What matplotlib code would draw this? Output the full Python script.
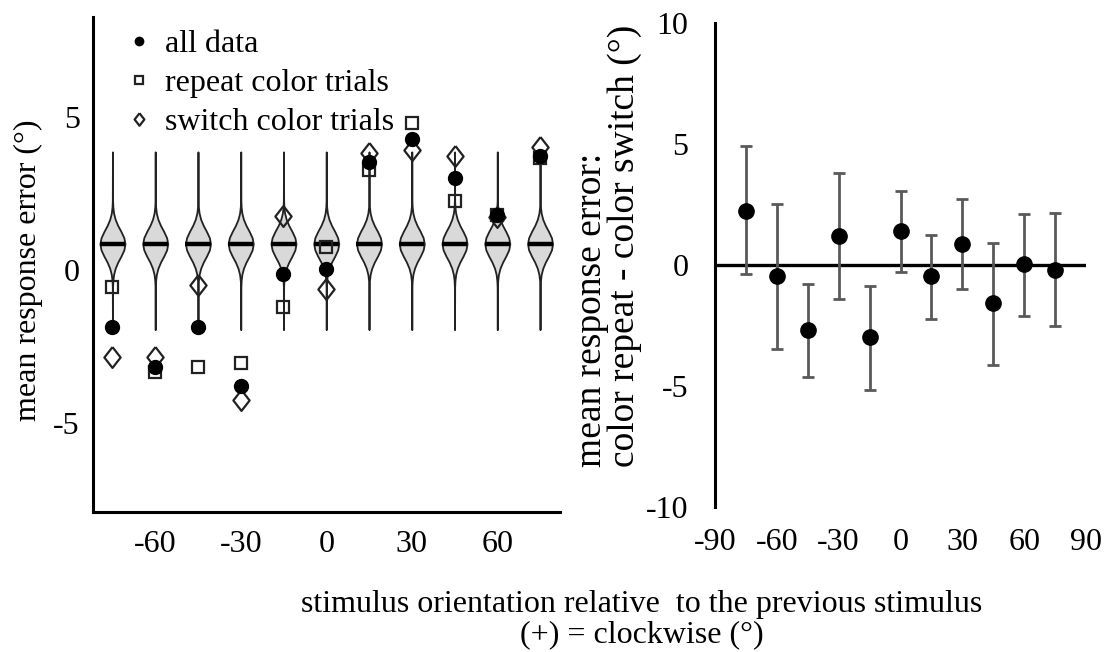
import matplotlib
matplotlib.use("Agg")
import matplotlib.pyplot as plt
import numpy as np

plt.rcParams['font.family'] = ['Liberation Serif', 'DejaVu Serif']
plt.rcParams['axes.unicode_minus'] = False

# ---- left panel data ----
orient = [-75, -60, -45, -30, -15, 0, 15, 30, 45, 60, 75]
all_data = [-1.86, -3.17, -1.86, -3.79, -0.13, 0.03, 3.53, 4.28, 3.00, 1.80, 3.73]
repeat_color = [-0.56, -3.33, -3.17, -3.04, -1.21, 0.75, 3.27, 4.80, 2.25, 1.80, 3.66]
switch_color = [-2.84, -2.84, -0.49, -4.25, 1.76, -0.62, 3.82, 3.92, 3.73, 1.73, 4.02]

# violin (null distribution) profile, same for every orientation
violin_center = 0.85
violin_dy = [-2.8, -1.4, -1.2, -1.0, -0.8, -0.6, -0.4, -0.2, 0.0,
             0.2, 0.4, 0.6, 0.8, 1.0, 1.2, 1.4, 3.0]
violin_hw = [0.0, 0.05, 0.15, 0.4, 0.95, 1.85, 3.0, 4.0, 4.4,
             4.0, 3.0, 1.85, 0.95, 0.4, 0.15, 0.05, 0.0]

# ---- right panel data ----
diff_mean = [2.24, -0.45, -2.69, 1.20, -2.99, 1.40, -0.45, 0.87, -1.57, 0.03, -0.20]
diff_top = [4.92, 2.52, -0.81, 3.79, -0.87, 3.04, 1.24, 2.73, 0.92, 2.08, 2.14]
diff_bot = [-0.38, -3.47, -4.63, -1.40, -5.15, -0.29, -2.25, -0.98, -4.15, -2.13, -2.52]

fig = plt.figure(figsize=(11.07, 6.52), dpi=100)
W, H = 1107, 652

def box(x0, x1, ytop, ybot):
    return [x0 / W, 1 - ybot / H, (x1 - x0) / W, (ybot - ytop) / H]

ax1 = fig.add_axes(box(92.5, 560, 17, 512))
ax2 = fig.add_axes(box(715, 1086, 22.7, 507))

fs = 23

# violins
dy = np.array(violin_dy)
hw = np.array(violin_hw)
for x in orient:
    ax1.fill_betweenx(violin_center + dy, x - hw, x + hw, facecolor='#d9d9d9',
                      edgecolor='#222222', linewidth=1.3, zorder=1)
    ax1.plot([x - hw.max(), x + hw.max()], [violin_center, violin_center],
             color='black', lw=3.2, solid_capstyle='butt', zorder=2)

diamond = [(0, 1), (0.78, 0), (0, -1), (-0.78, 0), (0, 1)]
ax1.plot(orient, repeat_color, ls='none', marker='s', ms=9, mfc='none',
         mec='#222222', mew=1.6, label='repeat color trials', zorder=3)
ax1.plot(orient, switch_color, ls='none', marker=diamond, ms=15, mfc='none',
         mec='#222222', mew=1.6, label='switch color trials', zorder=3)
ax1.plot(orient, all_data, ls='none', marker='o', ms=10, color='black',
         label='all data', zorder=4)

handles, labels = ax1.get_legend_handles_labels()
order = [2, 0, 1]
ax1.legend([handles[i] for i in order], [labels[i] for i in order],
           loc='upper left', bbox_to_anchor=(0.045, 1.0), frameon=False,
           fontsize=fs, markerscale=0.6, handlelength=0.8, handletextpad=0.4,
           labelspacing=0.3, borderaxespad=0)

ax1.set_xlim(-82, 82)
ax1.set_ylim(-7.9, 8.25)
ax1.set_xticks([-60, -30, 0, 30, 60])
ax1.set_yticks([-5, 0, 5])
for s in ['top', 'right']:
    ax1.spines[s].set_visible(False)
for s in ['left', 'bottom']:
    ax1.spines[s].set_linewidth(2.2)
ax1.tick_params(length=0, labelsize=fs)
ax1.tick_params(axis='y', pad=9)
ax1.tick_params(axis='x', pad=13)
fig.text(28 / W, 1 - 270 / H, 'mean response error (°)', rotation=90,
         ha='center', va='center', fontsize=fs)

# right panel
yerr = [np.array(diff_mean) - np.array(diff_bot), np.array(diff_top) - np.array(diff_mean)]
ax2.axhline(0, color='black', lw=2.4, zorder=1)
ax2.errorbar(orient, diff_mean, yerr=yerr, fmt='o', ms=11, color='black',
             ecolor='#595959', elinewidth=2, capsize=4.5, capthick=2, zorder=3)
ax2.set_xlim(-90, 90)
ax2.set_ylim(-10, 10)
ax2.set_xticks([-90, -60, -30, 0, 30, 60, 90])
ax2.set_yticks([-10, -5, 0, 5, 10])
for s in ['top', 'right', 'bottom']:
    ax2.spines[s].set_visible(False)
ax2.spines['left'].set_linewidth(2.2)
ax2.tick_params(length=0, labelsize=fs)
ax2.tick_params(axis='y', pad=19)
ax2.tick_params(axis='x', pad=15)
fig.text(608 / W, 1 - 467 / H, 'mean response error:\ncolor repeat - color switch (°)',
         rotation=90, rotation_mode='anchor', ha='left', va='center',
         multialignment='left', fontsize=27, linespacing=0.92)

fig.text(0.58, 1 - 620 / H, 'stimulus orientation relative  to the previous stimulus\n(+) = clockwise (°)',
         ha='center', va='center', fontsize=fs, linespacing=1.05)

fig.savefig('out.png', dpi=100)
